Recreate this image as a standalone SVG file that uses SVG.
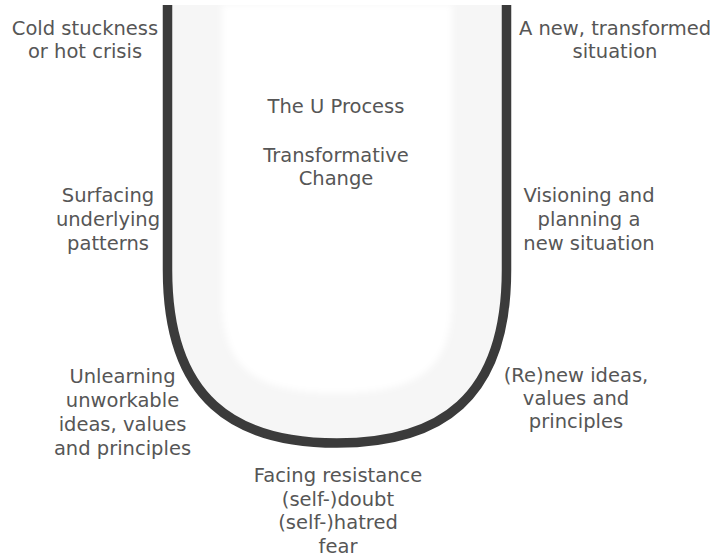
<svg xmlns="http://www.w3.org/2000/svg" width="715" height="560" viewBox="0 0 715 560">
<defs>
<filter id="soft" x="-10%" y="-10%" width="120%" height="120%"><feGaussianBlur stdDeviation="3"/></filter>
</defs>
<style>
text{font-family:"DejaVu Sans","Verdana",sans-serif;font-size:19.5px;fill:#565656;text-anchor:middle}
.band{fill:#f6f6f6;stroke:none}
.inner{fill:#ffffff;stroke:none}
.outline{fill:none;stroke:#3b3b3b;stroke-width:9.5}
</style>
<rect width="715" height="560" fill="#ffffff"/>
<g id="u-shape">
<path class="band" d="M167.5,5 V270 C167.5,400 235,443 337,443 C439,443 506.5,400 506.5,270 V5 Z"/>
<path class="inner" filter="url(#soft)" d="M222,5 V300 C222,372 260,393 337,393 C414,393 452,372 452,300 V5 Z"/>
<path class="outline" d="M167.5,5 V270 C167.5,400 235,443 337,443 C439,443 506.5,400 506.5,270 V5"/>
</g>
<g id="title">
<text x="336" y="113">The U Process</text>
<text x="336" y="162">Transformative</text>
<text x="336" y="185">Change</text>
</g>
<g id="cold-stuckness">
<text x="85" y="35">Cold stuckness</text>
<text x="85" y="58">or hot crisis</text>
</g>
<g id="new-situation">
<text x="615" y="35">A new, transformed</text>
<text x="615" y="58">situation</text>
</g>
<g id="surfacing">
<text x="108" y="202">Surfacing</text>
<text x="108" y="226">underlying</text>
<text x="108" y="250">patterns</text>
</g>
<g id="visioning">
<text x="589" y="202">Visioning and</text>
<text x="589" y="226">planning a</text>
<text x="589" y="250">new situation</text>
</g>
<g id="unlearning">
<text x="122.5" y="383">Unlearning</text>
<text x="122.5" y="407">unworkable</text>
<text x="122.5" y="431">ideas, values</text>
<text x="122.5" y="455">and principles</text>
</g>
<g id="renew">
<text x="576" y="382">(Re)new ideas,</text>
<text x="576" y="405">values and</text>
<text x="576" y="428">principles</text>
</g>
<g id="facing-resistance">
<text x="338" y="482">Facing resistance</text>
<text x="338" y="506">(self-)doubt</text>
<text x="338" y="529">(self-)hatred</text>
<text x="338" y="553">fear</text>
</g>
<g id="connectors"></g>
</svg>
